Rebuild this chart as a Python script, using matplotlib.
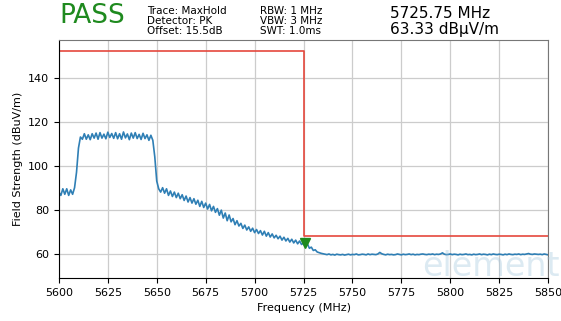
import numpy as np
import matplotlib
matplotlib.use("Agg")
import matplotlib.pyplot as plt

# sweep 5600-5850 MHz, 1 MHz steps
freq = np.arange(5600, 5851, 1)

level = [
    # 5600-5611
    88.0, 86.5, 89.5, 87.0, 89.5, 86.5, 89.0, 87.0, 90.0, 97.0, 108.0, 113.0,
    # 5612-5648 plateau
    112.0, 114.5, 112.0, 114.0, 111.8, 114.5, 112.5, 114.8, 112.0, 115.0,
    112.5, 114.3, 112.2, 115.2, 112.8, 114.6, 112.4, 115.0, 112.2, 114.5,
    112.0, 115.3, 112.6, 114.4, 111.8, 114.8, 112.5, 115.0, 112.3, 114.2,
    111.9, 114.7, 112.3, 114.0, 111.5, 113.8, 111.5,
    # 5649-5660
    104.0, 93.0, 89.5, 88.0, 90.0, 87.5, 89.5, 86.5, 88.5, 86.0, 88.0, 85.5,
    # 5661-5680
    87.5, 85.0, 86.8, 84.2, 86.2, 83.5, 85.5, 83.0, 85.0, 82.5,
    84.3, 81.5, 83.8, 81.0, 83.0, 80.3, 82.4, 79.5, 81.5, 78.8,
    # 5681-5700
    80.5, 77.5, 79.8, 76.2, 78.5, 75.0, 77.6, 74.5, 76.0, 73.2,
    75.0, 72.6, 73.8, 71.5, 73.0, 70.8, 72.2, 70.2, 71.6, 69.6,
    # 5701-5725
    71.0, 69.2, 70.5, 68.5, 70.2, 68.0, 69.6, 67.6, 69.0, 67.2,
    68.4, 66.8, 68.0, 66.2, 67.5, 65.8, 67.0, 65.3, 66.6, 64.9,
    66.2, 64.5, 65.8, 64.2, 65.0,
    # 5726-5735
    63.5, 64.5, 62.5, 63.0, 61.5, 61.8, 60.8, 60.5, 60.2, 60.0,
    # 5736-5850
    59.8, 59.6, 59.9, 59.5, 59.7, 59.4, 59.8, 59.6, 59.5, 59.7,
    59.4, 59.6, 59.8, 59.5, 59.7, 59.6, 59.9, 59.5, 59.6, 59.8,
    59.7, 59.5, 59.9, 59.6, 59.8, 59.7, 59.6, 59.9, 60.6, 60.0,
    59.7, 59.5, 59.8, 59.6, 59.7, 59.5, 59.6, 59.9, 59.7, 59.5,
    59.8, 59.6, 59.7, 59.9, 59.6, 59.8, 59.5, 59.7, 59.6, 59.8,
    59.9, 59.7, 59.6, 59.8, 59.7, 59.9, 59.6, 59.8, 59.7, 59.9,
    60.4, 59.8, 59.6, 59.7, 59.9, 59.6, 59.8, 59.7, 59.5, 59.8,
    59.6, 59.7, 59.9, 59.6, 59.7, 59.5, 59.8, 59.6, 59.7, 59.9,
    59.6, 59.8, 59.7, 59.5, 59.8, 59.6, 59.9, 59.7, 59.6, 59.8,
    59.7, 59.5, 59.8, 59.6, 59.9, 59.7, 59.6, 59.8, 59.7, 59.9,
    59.6, 59.8, 59.7, 59.9, 60.1, 59.8, 59.7, 59.9, 59.8, 59.7,
    59.8, 59.6, 59.9, 59.7, 59.5,
]

limit_freq = [5600, 5725, 5725, 5850]
limit_level = [152.0, 152.0, 68.2, 68.2]

marker_freq = 5725.75
marker_level = 63.33

fig = plt.figure(figsize=(5.61, 3.21), dpi=100)
ax = fig.add_axes([0.105, 0.134, 0.872, 0.741])

ax.plot(freq, level, color='#2f7fb5', lw=1.2)
ax.plot(limit_freq, limit_level, color='#e5483d', lw=1.2)
ax.plot(marker_freq, marker_level + 1.5, marker='v', color='#1d8a1d', ms=7, ls='none')

ax.set_xlim(5600, 5850)
ax.set_ylim(49, 157)
ax.set_xticks(np.arange(5600, 5851, 25))
ax.set_yticks([60, 80, 100, 120, 140])
ax.grid(True, color='#cccccc', lw=0.9)
ax.tick_params(labelsize=8, length=3.5)
for s in ['top', 'right']:
    ax.spines[s].set_color('#777777')
ax.set_xlabel('Frequency (MHz)', fontsize=8)
ax.set_ylabel('Field Strength (dBuV/m)', fontsize=8)

# faint watermark
fig.text(0.875, 0.17, 'element', fontsize=24, color='#9cc3dc', alpha=0.35,
         ha='center', va='center')

fig.text(0.105, 0.91, 'PASS', fontsize=19, color='#1f8a1f', va='bottom')
for i, t in enumerate(['Trace: MaxHold', 'Detector: PK', 'Offset: 15.5dB']):
    fig.text(0.262, 0.966 - i * 0.032, t, fontsize=7.5, va='center')
for i, t in enumerate(['RBW: 1 MHz', 'VBW: 3 MHz', 'SWT: 1.0ms']):
    fig.text(0.463, 0.966 - i * 0.032, t, fontsize=7.5, va='center')
fig.text(0.695, 0.958, '5725.75 MHz', fontsize=11, va='center')
fig.text(0.695, 0.908, '63.33 dB\u03bcV/m', fontsize=11, va='center')

fig.savefig('out.png', dpi=100)
